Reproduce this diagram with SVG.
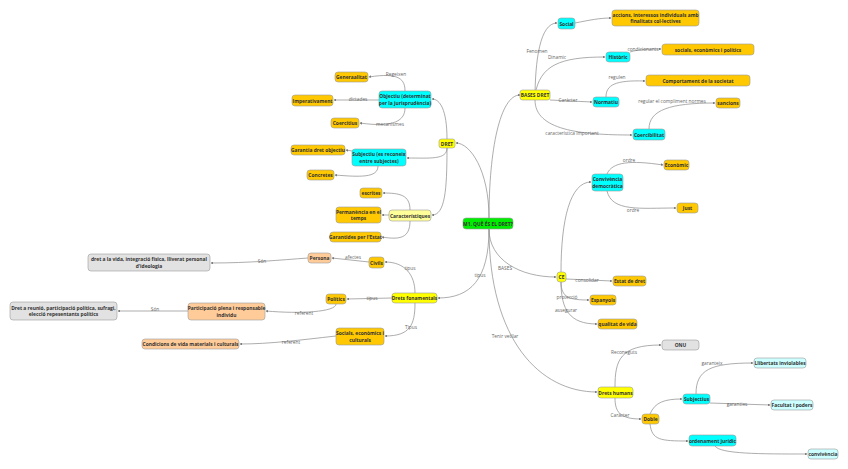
<svg xmlns="http://www.w3.org/2000/svg" width="848" height="469" viewBox="0 0 848 469">
<defs>
<marker id="a" viewBox="0 0 6 6" refX="5" refY="3" markerWidth="4" markerHeight="4" orient="auto"><path d="M0,0 L6,3 L0,6 z" fill="#777"/></marker>
<style>
.n rect{stroke:#9a9a9a;stroke-width:0.6}
.n text{font-family:"Open Sans","DejaVu Sans",sans-serif;font-size:4.9px;font-weight:bold;fill:#333;text-anchor:middle}
.y rect{fill:#ffff00}.g rect{fill:#ffc800}.c rect{fill:#00ffff}.gr rect{fill:#00ee00}.p rect{fill:#ffcc99}.s rect{fill:#e2e2e2}.lc rect{fill:#ccffff}.ly rect{fill:#ffff99}
#e path{fill:none;stroke:#8a8a8a;stroke-width:0.7;marker-end:url(#a)}
#e text{font-family:"Open Sans","DejaVu Sans",sans-serif;font-size:4.8px;fill:#666;text-anchor:middle}
</style>
</defs>
<rect width="848" height="469" fill="#fff"/>
<g id="e">
<path d="M489,218 C489,170 470,143 456,143"/>
<path d="M489,218 C489,150 500,95 520,95"/>
<path d="M489,229 C489,280 470,298 438,298"/>
<path d="M489,229 C489,260 520,277 556,277"/>
<path d="M489,229 C489,340 540,392 597,392"/>
<path d="M535,100 C535,60 540,23 557,23"/>
<path d="M535,95 C540,65 560,57 605,57"/>
<path d="M550,100 L592,102"/>
<path d="M535,100 C535,130 580,135 632,135"/>
<path d="M575,23 C590,20 600,18 611,18"/>
<path d="M630,52 C640,49 650,49 661,49"/>
<path d="M606,97 C606,85 615,80 645,81"/>
<path d="M649,129 C649,110 670,103 715,103"/>
<path d="M561,272 C561,220 570,182 591,182"/>
<path d="M607,174 C612,162 630,160 663,165"/>
<path d="M607,191 C612,212 640,208 676,208"/>
<path d="M566,279 L612,281"/>
<path d="M561,282 C561,298 570,300 589,300"/>
<path d="M561,282 C561,310 570,324 597,324"/>
<path d="M615,387 C615,360 620,345 661,345"/>
<path d="M615,398 C615,412 620,419 641,419"/>
<path d="M650,414 C655,402 665,399 682,399"/>
<path d="M650,424 C652,440 660,441 688,441"/>
<path d="M696,394 C696,370 710,363 753,363"/>
<path d="M710,403 L770,405"/>
<path d="M715,446 C720,454 760,454 807,454"/>
<path d="M447,139 C447,110 440,99 432,99"/>
<path d="M447,148 C447,160 430,158 407,158"/>
<path d="M447,148 C447,190 445,215 432,215"/>
<path d="M405,91 C405,80 400,72 369,77"/>
<path d="M379,100 L334,100"/>
<path d="M405,108 C405,120 395,128 360,123"/>
<path d="M352,151 L346,150"/>
<path d="M378,166 C378,178 360,177 335,175"/>
<path d="M410,210 C410,195 400,193 383,193"/>
<path d="M389,215 L382,215"/>
<path d="M410,221 C410,238 400,240 382,237"/>
<path d="M415,293 C415,275 405,262 385,262"/>
<path d="M392,298 L347,299"/>
<path d="M415,303 C415,325 410,336 385,336"/>
<path d="M369,262 L332,258"/>
<path d="M308,258 C280,260 250,263 211,263"/>
<path d="M336,304 C336,312 300,314 266,311"/>
<path d="M188,311 L118,311"/>
<path d="M336,336 C300,340 270,344 240,344"/>
<text x="537" y="53">Fenomen</text><text x="557" y="59">Dinamic</text><text x="568" y="102">Caràcter</text><text x="572" y="135">característica important</text>
<text x="643" y="51">condicionants</text><text x="617" y="79">regulen</text><text x="672" y="103">regular el compliment normes</text>
<text x="629" y="162">ordre</text><text x="633" y="212">ordre</text><text x="587" y="282">consolidar</text><text x="567" y="299">protecció</text><text x="566" y="312">assegurar</text>
<text x="505" y="270">BASES</text><text x="480" y="277">tipus</text><text x="505" y="338">Tenir vetllar</text>
<text x="624" y="354">Reconeguts</text><text x="620" y="417">Caràcter</text><text x="712" y="365">garanteix</text><text x="737" y="406">garanties</text>
<text x="396" y="76">Regeixen</text><text x="358" y="101">dictades</text><text x="390" y="126">mecanismes</text>
<text x="410" y="270">tipus</text><text x="372" y="300">tipus</text><text x="411" y="329">Tipus</text><text x="353" y="259">afectes</text><text x="262" y="263">Són</text><text x="304" y="315">referent</text><text x="155" y="311">Són</text><text x="291" y="344">referent</text>
</g>
<g id="root" class="n gr"><rect x="463" y="218" width="50" height="11" rx="3"/><text x="488" y="225.5">M1. QUÈ ÉS EL DRET?</text></g>
<g id="dret" class="n y"><rect x="439" y="139" width="16" height="9" rx="2.5"/><text x="447" y="145.5">DRET</text></g>
<g id="bases" class="n y"><rect x="520" y="90" width="30" height="10" rx="2.5"/><text x="535" y="97">BASES DRET</text></g>
<g id="social" class="n c"><rect x="558" y="18" width="17" height="11" rx="3"/><text x="566.5" y="25.5">Social</text></g>
<g id="accions" class="n g"><rect x="612" y="10" width="87" height="16" rx="3"/><text x="655.5" y="16.5">accions, interessos individuals amb</text><text x="655.5" y="23">finalitats col·lectives</text></g>
<g id="historic" class="n c"><rect x="606" y="52" width="24" height="10" rx="3"/><text x="618" y="59">Històric</text></g>
<g id="socials" class="n g"><rect x="662" y="44" width="92" height="11" rx="3"/><text x="708" y="51.5">socials, econòmics i polítics</text></g>
<g id="comport" class="n g"><rect x="646" y="75" width="104" height="11" rx="3"/><text x="698" y="82.5">Comportament de la societat</text></g>
<g id="normatiu" class="n c"><rect x="593" y="97" width="26" height="10" rx="3"/><text x="606" y="104">Normatiu</text></g>
<g id="sancions" class="n g"><rect x="716" y="98" width="24" height="10" rx="3"/><text x="728" y="105">sancions</text></g>
<g id="coerc" class="n c"><rect x="633" y="129" width="32" height="11" rx="3"/><text x="649" y="136.5">Coercibilitat</text></g>
<g id="conviv" class="n c"><rect x="592" y="174" width="31" height="17" rx="3"/><text x="607.5" y="181">Convivència</text><text x="607.5" y="187.5">democràtica</text></g>
<g id="econ" class="n g"><rect x="664" y="160" width="25" height="10" rx="3"/><text x="676.5" y="167">Econòmic</text></g>
<g id="just" class="n g"><rect x="677" y="203" width="21" height="10" rx="3"/><text x="687.5" y="210">Just</text></g>
<g id="ce" class="n y"><rect x="557" y="272" width="9" height="10" rx="3"/><text x="561.5" y="279">CE</text></g>
<g id="estat" class="n g"><rect x="613" y="276" width="33" height="10" rx="3"/><text x="629.5" y="283">Estat de dret</text></g>
<g id="espanyols" class="n g"><rect x="590" y="295" width="26" height="10" rx="3"/><text x="603" y="302">Espanyols</text></g>
<g id="qualitat" class="n g"><rect x="598" y="319" width="39" height="10" rx="3"/><text x="617.5" y="326">qualitat de vida</text></g>
<g id="onu" class="n s"><rect x="662" y="340" width="37" height="10" rx="3"/><text x="680.5" y="347">ONU</text></g>
<g id="dh" class="n y"><rect x="598" y="387" width="35" height="11" rx="3"/><text x="615.5" y="394.5">Drets humans</text></g>
<g id="doble" class="n g"><rect x="642" y="414" width="17" height="10" rx="3"/><text x="650.5" y="421">Doble</text></g>
<g id="subjectius" class="n c"><rect x="683" y="394" width="27" height="10" rx="3"/><text x="696.5" y="401">Subjectius</text></g>
<g id="llibertats" class="n lc"><rect x="754" y="358" width="52" height="10" rx="3"/><text x="780" y="365">Llibertats inviolables</text></g>
<g id="facultat" class="n lc"><rect x="771" y="400" width="42" height="10" rx="3"/><text x="792" y="407">Facultat i poders</text></g>
<g id="ordenament" class="n c"><rect x="689" y="435" width="47" height="11" rx="3"/><text x="712.5" y="442.5">ordenament jurídic</text></g>
<g id="convivencia" class="n lc"><rect x="808" y="449" width="30" height="10" rx="3"/><text x="823" y="456">convivència</text></g>
<g id="objectiu" class="n c"><rect x="379" y="91" width="52" height="17" rx="3"/><text x="405" y="98">Objectiu (determinat</text><text x="405" y="104.5">per la jurisprudència)</text></g>
<g id="gen" class="n g"><rect x="335" y="72" width="33" height="10" rx="3"/><text x="351.5" y="79">Generaalitat</text></g>
<g id="imp" class="n g"><rect x="292" y="95" width="41" height="11" rx="3"/><text x="312.5" y="102.5">Imperativament</text></g>
<g id="coercitius" class="n g"><rect x="331" y="118" width="28" height="10" rx="3"/><text x="345" y="125">Coercitius</text></g>
<g id="subjectiu" class="n c"><rect x="352" y="149" width="54" height="17" rx="3"/><text x="379" y="156">Subjectiu (es reconeix</text><text x="379" y="162.5">entre subjectes)</text></g>
<g id="garantia" class="n g"><rect x="291" y="145" width="54" height="10" rx="3"/><text x="318" y="152">Garantia dret objectiu</text></g>
<g id="concretes" class="n g"><rect x="307" y="170" width="27" height="10" rx="3"/><text x="320.5" y="177">Concretes</text></g>
<g id="escrites" class="n g"><rect x="360" y="188" width="22" height="10" rx="3"/><text x="371" y="195">escrites</text></g>
<g id="perm" class="n g"><rect x="336" y="207" width="45" height="16" rx="3"/><text x="358.5" y="213.5">Permanència en el</text><text x="358.5" y="220">temps</text></g>
<g id="caract" class="n ly"><rect x="389" y="210" width="42" height="11" rx="3"/><text x="410" y="217.5">Característiques</text></g>
<g id="garantides" class="n g"><rect x="330" y="232" width="51" height="10" rx="3"/><text x="355.5" y="239">Garantides per l'Estat</text></g>
<g id="df" class="n y"><rect x="392" y="293" width="45" height="10" rx="3"/><text x="414.5" y="300">Drets fonamentals</text></g>
<g id="civils" class="n g"><rect x="369" y="257" width="15" height="11" rx="3"/><text x="376.5" y="264.5">Civils</text></g>
<g id="persona" class="n p"><rect x="308" y="253" width="23" height="10" rx="3"/><text x="319.5" y="260">Persona</text></g>
<g id="vida" class="n s"><rect x="88" y="254" width="122" height="17" rx="3"/><text x="149" y="261">dret a la vida, integració física, lliverat personal</text><text x="149" y="267.5">d'ideologia</text></g>
<g id="politics" class="n g"><rect x="326" y="294" width="20" height="10" rx="3"/><text x="336" y="301">Polítics</text></g>
<g id="partic" class="n p"><rect x="188" y="303" width="77" height="17" rx="3"/><text x="226.5" y="310">Participació plena i responsable</text><text x="226.5" y="316.5">individu</text></g>
<g id="reunio" class="n s"><rect x="10" y="302" width="107" height="18" rx="3"/><text x="63.5" y="309.5">Dret a reunió, participació política, sufragi,</text><text x="63.5" y="316">elecció repesentants polítics</text></g>
<g id="sec" class="n g"><rect x="336" y="328" width="48" height="17" rx="3"/><text x="360" y="335">Socials, econòmics i</text><text x="360" y="341.5">culturals</text></g>
<g id="condicions" class="n p"><rect x="142" y="339" width="97" height="10" rx="3"/><text x="190.5" y="346">Condicions de vida materials i culturals</text></g>
</svg>
